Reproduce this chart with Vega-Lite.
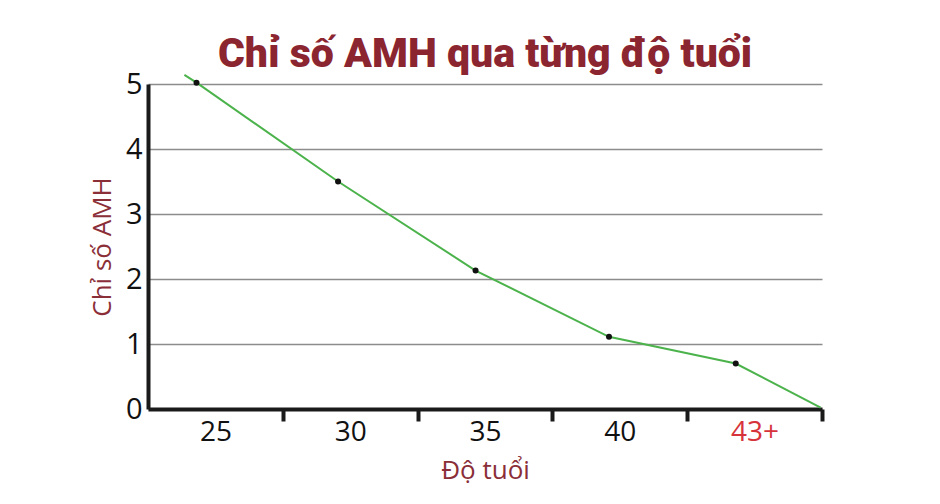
{
  "$schema": "https://vega.github.io/schema/vega-lite/v6.json",
  "autosize": {"type": "none"},
  "width": 674,
  "height": 325,
  "padding": {"left": 148, "top": 84, "right": 118, "bottom": 95},
  "background": "white",
  "title": {
    "text": "Chỉ số AMH qua từng độ tuổi",
    "font": "Roboto",
    "fontSize": 41,
    "fontWeight": 900,
    "color": "#8b2530",
    "anchor": "middle",
    "frame": "group",
    "offset": 0,
    "dy": 6
  },
  "data": {
    "values": [
      {"x": 0.27, "amh": 5.14, "tuoi": "", "diem": false},
      {"x": 0.36, "amh": 5.02, "tuoi": "25", "diem": true},
      {"x": 1.41, "amh": 3.5, "tuoi": "30", "diem": true},
      {"x": 2.43, "amh": 2.13, "tuoi": "35", "diem": true},
      {"x": 3.42, "amh": 1.11, "tuoi": "40", "diem": true},
      {"x": 4.36, "amh": 0.7, "tuoi": "43+", "diem": true},
      {"x": 4.99, "amh": 0.02, "tuoi": "", "diem": false}
    ]
  },
  "encoding": {
    "x": {
      "field": "x",
      "type": "quantitative",
      "scale": {"domain": [0, 5], "nice": false, "zero": false},
      "axis": {
        "title": "Độ tuổi",
        "titleFont": "Open Sans",
        "titleFontSize": 26,
        "titleFontWeight": "normal",
        "titleColor": "#8a2e38",
        "titlePadding": 11,
        "values": [0.5, 1, 1.5, 2, 2.5, 3, 3.5, 4, 4.5, 5],
        "labelExpr": "datum.value === 0.5 ? '25' : datum.value === 1.5 ? '30' : datum.value === 2.5 ? '35' : datum.value === 3.5 ? '40' : datum.value === 4.5 ? '43+' : ''",
        "labelFont": "Open Sans",
        "labelFontSize": 28,
        "labelColor": {"condition": {"test": "datum.value === 4.5", "value": "#d6333a"}, "value": "#111111"},
        "labelPadding": -3,
        "labelOverlap": false,
        "labelFlush": false,
        "labelBound": false,
        "tickSize": 12,
        "tickWidth": 4,
        "tickColor": "#1a1a1a",
        "tickOpacity": {"condition": {"test": "datum.value % 1 === 0", "value": 1}, "value": 0},
        "domainColor": "#1a1a1a",
        "domainWidth": 4,
        "grid": false
      }
    },
    "y": {
      "field": "amh",
      "type": "quantitative",
      "scale": {"domain": [0, 5], "nice": false},
      "axis": {
        "title": "Chỉ số AMH",
        "titleFont": "Open Sans",
        "titleFontSize": 26,
        "titleFontWeight": "normal",
        "titleColor": "#8a2e38",
        "titlePadding": 10,
        "values": [0, 1, 2, 3, 4, 5],
        "labelFont": "Open Sans",
        "labelFontSize": 29,
        "labelColor": "#111111",
        "labelPadding": 6,
        "ticks": false,
        "domainColor": "#1a1a1a",
        "domainWidth": 4,
        "grid": true,
        "gridColor": "#8c8c8c",
        "gridWidth": 1.5
      }
    }
  },
  "layer": [
    {
      "mark": {"type": "line", "color": "#4cb34c", "strokeWidth": 2},
      "encoding": {"order": {"field": "x"}}
    },
    {
      "transform": [{"filter": "datum.diem"}],
      "mark": {"type": "circle", "color": "#111111", "opacity": 1, "size": 36}
    }
  ],
  "config": {"view": {"stroke": null}}
}
